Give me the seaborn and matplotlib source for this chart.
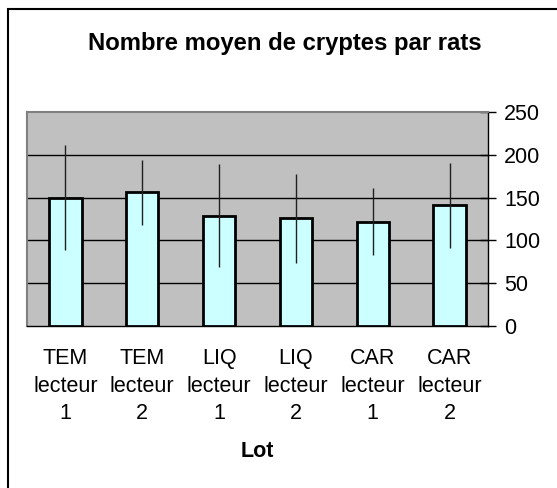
import numpy as np
import matplotlib
matplotlib.use('Agg')
import matplotlib.pyplot as plt
import seaborn as sns
from matplotlib.patches import Rectangle

# Data
lots = ['TEM\nlecteur\n1', 'TEM\nlecteur\n2', 'LIQ\nlecteur\n1',
        'LIQ\nlecteur\n2', 'CAR\nlecteur\n1', 'CAR\nlecteur\n2']
moyennes = [150, 156, 129, 126, 122, 141]
ecarts = [61, 38, 60, 52, 39, 50]
y_ticks = [0, 50, 100, 150, 200, 250]

sns.set_style('white')
plt.rcParams['font.family'] = ['Liberation Sans', 'DejaVu Sans']
plt.rcParams['text.color'] = 'black'
plt.rcParams['axes.labelcolor'] = 'black'
plt.rcParams['xtick.color'] = 'black'
plt.rcParams['ytick.color'] = 'black'

fig = plt.figure(figsize=(5.57, 4.88), dpi=100)
fig.patch.set_facecolor('white')
# chart area border (right and bottom edges fall outside the image)
fig.add_artist(Rectangle((7.5 / 557, -0.1), 1.0, 1.1 - 9 / 488,
                         transform=fig.transFigure, fill=False,
                         edgecolor='black', linewidth=1.5))

ax = fig.add_axes([27 / 557, 162 / 488, 461 / 557, 214 / 488])
ax.set_facecolor('#C0C0C0')

sns.barplot(x=lots, y=moyennes, color='#CCFFFF', edgecolor='black',
            linewidth=2, width=0.42, saturation=1, ax=ax, zorder=3)
ax.errorbar(np.arange(len(lots)), moyennes, yerr=ecarts, fmt='none',
            ecolor='#202020', elinewidth=1, capsize=0, zorder=4)

ax.set_ylim(0, 250)
ax.set_xlim(-0.5, len(lots) - 0.5)
ax.set_yticks(y_ticks)
ax.yaxis.tick_right()
ax.tick_params(axis='y', direction='inout', length=11, width=1,
               labelsize=15.5, pad=6)
for y in y_ticks[1:-1]:
    ax.axhline(y, color='black', linewidth=1, zorder=1)

# category boundary ticks, labels centered under bars
ax.set_xticks(np.arange(-0.5, len(lots), 1.0))
ax.set_xticklabels([])
ax.set_xticks(np.arange(len(lots)), minor=True)
ax.set_xticklabels(lots, minor=True, fontsize=15.5, linespacing=1.4)
ax.tick_params(axis='x', which='major', direction='inout', length=12, width=1)
ax.tick_params(axis='x', which='minor', length=0, pad=16)

for side in ['top', 'left']:
    ax.spines[side].set_color('#808080')
    ax.spines[side].set_linewidth(1.5)
for side in ['bottom', 'right']:
    ax.spines[side].set_color('black')
    ax.spines[side].set_linewidth(1)
    ax.spines[side].set_visible(True)

ax.set_xlabel('Lot', fontsize=15.5, fontweight='bold', labelpad=12)
ax.set_ylabel('')

fig.text(285 / 557, 1 - 50 / 488, 'Nombre moyen de cryptes par rats',
         ha='center', va='baseline', fontsize=17.2, fontweight='bold')

fig.savefig('out.png', dpi=100)
